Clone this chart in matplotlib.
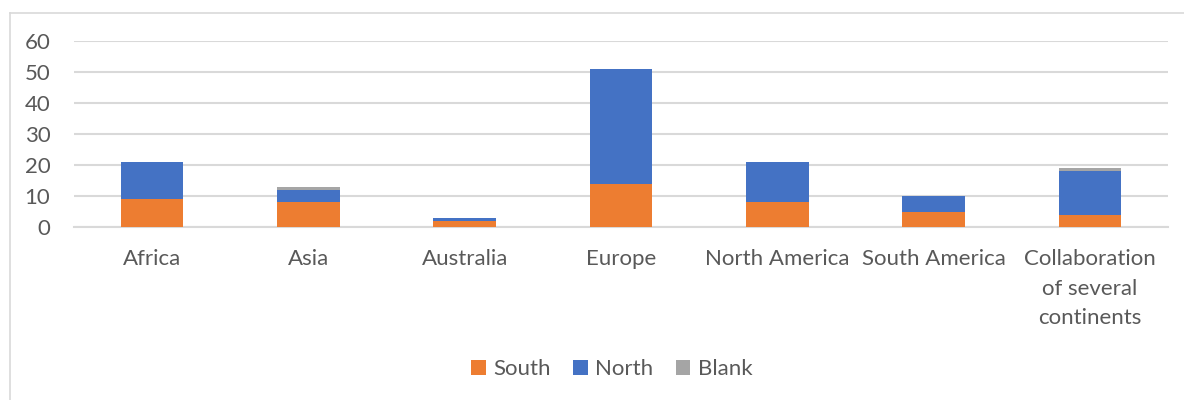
import matplotlib
matplotlib.use("Agg")
import matplotlib.pyplot as plt
from matplotlib.lines import Line2D
import numpy as np

categories = ["Africa", "Asia", "Australia", "Europe", "North America",
              "South America", "Collaboration\nof several\ncontinents"]
south = [9, 8, 2, 14, 8, 5, 4]
north = [12, 4, 1, 37, 13, 5, 14]
blank = [0, 1, 0, 0, 0, 0, 1]
yticks = [0, 10, 20, 30, 40, 50, 60]

colors = {"South": "#ED7D31", "North": "#4472C4", "Blank": "#A5A5A5"}
text_color = "#595959"
grid_color = "#D9D9D9"

plt.rcParams["font.family"] = ["Lato", "DejaVu Sans"]

W, H = 1184, 400
fig = plt.figure(figsize=(W / 100, H / 100), dpi=100)
ax = fig.add_axes([74 / W, 1 - 227 / H, (1168 - 74) / W, (227 - 41) / H])

x = np.arange(len(categories))
width = 0.4
south_a = np.array(south)
north_a = np.array(north)
blank_a = np.array(blank)

ax.bar(x, south_a, width, color=colors["South"], label="South", zorder=3)
ax.bar(x, north_a, width, bottom=south_a, color=colors["North"], label="North", zorder=3)
ax.bar(x, blank_a, width, bottom=south_a + north_a, color=colors["Blank"], label="Blank", zorder=3)

ax.set_xlim(-0.5, len(categories) - 0.5)
ax.set_ylim(0, 60)
ax.set_yticks(yticks)
ax.yaxis.grid(True, color=grid_color, linewidth=1.5, zorder=0)
ax.set_axisbelow(True)
for side in ["top", "right", "left"]:
    ax.spines[side].set_visible(False)
ax.spines["bottom"].set_color(grid_color)
ax.spines["bottom"].set_linewidth(1.5)
ax.tick_params(axis="both", length=0, colors=text_color, labelsize=16)
ax.tick_params(axis="y", pad=17)
ax.tick_params(axis="x", pad=16)
ax.set_xticks(x)
ax.set_xticklabels(categories, linespacing=1.6, va="top")

leg = fig.legend(loc="center", bbox_to_anchor=(612 / W, 1 - 369 / H), ncol=3,
                 frameon=False, fontsize=16, handlelength=0.65, handleheight=0.65,
                 handletextpad=0.35, columnspacing=1.0)
for t in leg.get_texts():
    t.set_color(text_color)

# chart-area frame (top and left edges fall inside the image)
fig.add_artist(Line2D([9.5 / W, 1], [1 - 12.5 / H, 1 - 12.5 / H],
                      transform=fig.transFigure, color=grid_color, linewidth=1.2))
fig.add_artist(Line2D([9.5 / W, 9.5 / W], [0, 1 - 12.5 / H],
                      transform=fig.transFigure, color=grid_color, linewidth=1.2))

fig.savefig("out.png", dpi=100)
